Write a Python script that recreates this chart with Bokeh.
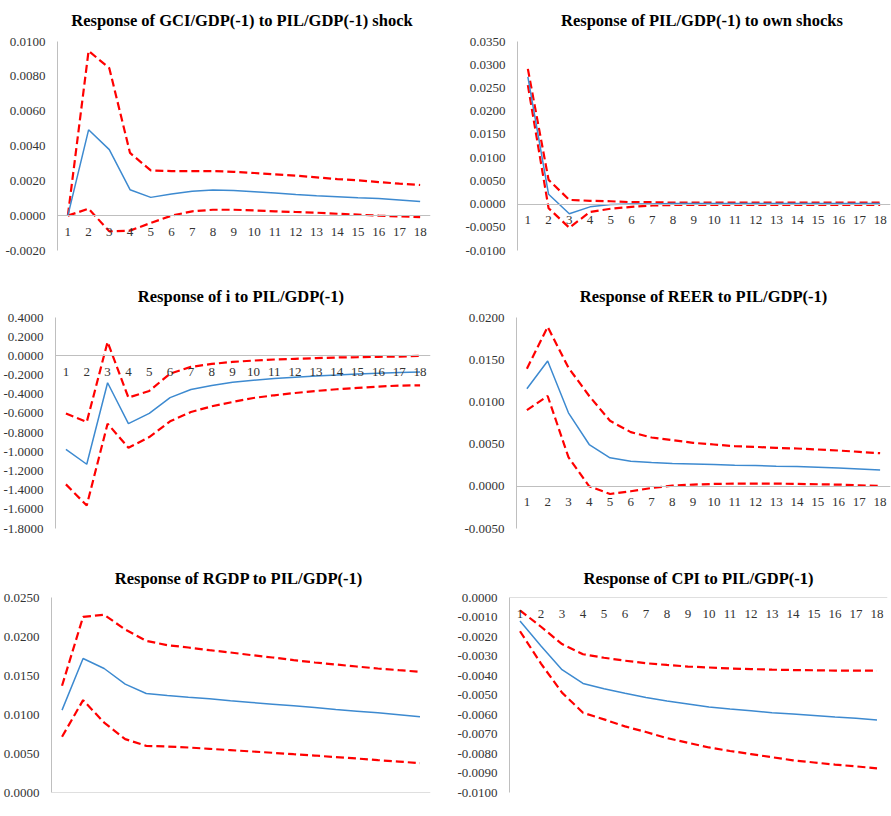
from bokeh.plotting import figure
from bokeh.layouts import column, row
from bokeh.models import FixedTicker, NumeralTickFormatter, Range1d
from bokeh.embed import file_html
from bokeh.resources import INLINE

periods = [1, 2, 3, 4, 5, 6, 7, 8, 9, 10, 11, 12, 13, 14, 15, 16, 17, 18]

# Panel 1: GCI/GDP(-1) to PIL/GDP(-1)
gci_mid = [0.0, 0.00493, 0.00379, 0.00149, 0.00105, 0.00124, 0.0014, 0.00147, 0.00145,
           0.00138, 0.0013, 0.00122, 0.00115, 0.00109, 0.00103, 0.00098, 0.0009, 0.00082]
gci_hi = [0.0, 0.00946, 0.00847, 0.0036, 0.0026, 0.00256, 0.00256, 0.00256, 0.00252,
          0.00245, 0.00237, 0.0023, 0.0022, 0.0021, 0.00203, 0.00193, 0.00184, 0.00176]
gci_lo = [0.0, 0.0004, -0.0009, -0.00086, -0.00042, 0.0, 0.00025, 0.00034, 0.00034,
          0.0003, 0.00025, 0.00021, 0.00017, 0.00011, 0.00006, 0.0, -0.00004, -0.00008]
gci_ticks = [-0.002, 0.0, 0.002, 0.004, 0.006, 0.008, 0.010]

# Panel 2: PIL/GDP(-1) own shocks
pil_mid = [0.0274, 0.0021, -0.0021, -0.0006, -0.0001, 0.0, 0.0, 0.0001, 0.0001,
           0.0001, 0.0001, 0.0001, 0.0001, 0.0001, 0.0001, 0.0001, 0.0001, 0.0001]
pil_hi = [0.0291, 0.0052, 0.0009, 0.0007, 0.0006, 0.0004, 0.0004, 0.0003, 0.0003,
          0.0003, 0.0003, 0.0003, 0.0003, 0.0003, 0.0003, 0.0003, 0.0003, 0.0003]
pil_lo = [0.0256, -0.0009, -0.0051, -0.0017, -0.001, -0.0006, -0.0003, -0.0002, -0.0002,
          -0.0002, -0.0002, -0.0002, -0.0002, -0.0002, -0.0002, -0.0002, -0.0002, -0.0002]
pil_ticks = [-0.010, -0.005, 0.0, 0.005, 0.010, 0.015, 0.020, 0.025, 0.030, 0.035]

# Panel 3: i to PIL/GDP(-1)
i_mid = [-0.975, -1.13, -0.28, -0.707, -0.60, -0.435, -0.35, -0.31, -0.275,
         -0.254, -0.237, -0.223, -0.209, -0.199, -0.188, -0.181, -0.174, -0.167]
i_hi = [-0.60, -0.69, 0.146, -0.435, -0.366, -0.185, -0.115, -0.084, -0.063,
        -0.049, -0.038, -0.031, -0.024, -0.017, -0.014, -0.010, -0.007, 0.0]
i_lo = [-1.34, -1.56, -0.707, -0.958, -0.847, -0.683, -0.585, -0.526, -0.481,
        -0.439, -0.411, -0.387, -0.366, -0.348, -0.334, -0.32, -0.31, -0.307]
i_ticks = [-1.8, -1.6, -1.4, -1.2, -1.0, -0.8, -0.6, -0.4, -0.2, 0.0, 0.2, 0.4]

# Panel 4: REER to PIL/GDP(-1)
reer_mid = [0.01156, 0.01485, 0.00871, 0.00495, 0.00337, 0.00297, 0.00281, 0.00269, 0.00265,
            0.00257, 0.0025, 0.00246, 0.00238, 0.00234, 0.00226, 0.00218, 0.00206, 0.00194]
reer_hi = [0.01394, 0.01889, 0.01406, 0.0107, 0.00776, 0.00642, 0.00578, 0.00547, 0.00515,
           0.00495, 0.00475, 0.00467, 0.00455, 0.00448, 0.00436, 0.00424, 0.00408, 0.00392]
reer_lo = [0.00903, 0.0107, 0.00345, 0.0, -0.00091, -0.00059, -0.0002, 0.00008, 0.0002,
           0.00028, 0.00032, 0.00032, 0.00032, 0.00028, 0.00024, 0.0002, 0.00012, 0.00004]
reer_ticks = [-0.005, 0.0, 0.005, 0.010, 0.015, 0.020]

# Panel 5: RGDP to PIL/GDP(-1)
rgdp_mid = [0.01056, 0.01718, 0.0159, 0.01389, 0.01269, 0.01244, 0.01222, 0.01201, 0.01175,
            0.01154, 0.01132, 0.01111, 0.0109, 0.01064, 0.01043, 0.01021, 0.00996, 0.0097]
rgdp_hi = [0.01368, 0.02252, 0.02278, 0.0209, 0.01944, 0.01889, 0.01859, 0.01825, 0.01795,
           0.01761, 0.01731, 0.01697, 0.01667, 0.01641, 0.01615, 0.0159, 0.01568, 0.01547]
rgdp_lo = [0.00714, 0.01184, 0.00897, 0.00684, 0.00598, 0.0059, 0.00577, 0.0056, 0.00543,
           0.00526, 0.00509, 0.00491, 0.00474, 0.00453, 0.00436, 0.00415, 0.00397, 0.00376]
rgdp_ticks = [0.0, 0.005, 0.010, 0.015, 0.020, 0.025]

# Panel 6: CPI to PIL/GDP(-1)
cpi_mid = [-0.00121, -0.00249, -0.0037, -0.00441, -0.00468, -0.00491, -0.00513, -0.00531, -0.00546,
           -0.00561, -0.00572, -0.00581, -0.00591, -0.00598, -0.00605, -0.00613, -0.00619, -0.00628]
cpi_hi = [-0.00066, -0.0015, -0.00239, -0.00291, -0.00309, -0.00324, -0.00337, -0.00346, -0.00354,
          -0.00359, -0.00364, -0.00367, -0.0037, -0.00372, -0.00373, -0.00375, -0.00375, -0.00375]
cpi_lo = [-0.00173, -0.00339, -0.00488, -0.00591, -0.00625, -0.00661, -0.0069, -0.00721, -0.00745,
          -0.00769, -0.00787, -0.00803, -0.00819, -0.00835, -0.00846, -0.00857, -0.00866, -0.00876]
cpi_ticks = [-0.010, -0.009, -0.008, -0.007, -0.006, -0.005, -0.004, -0.003, -0.002, -0.001, 0.0]

FONT = "'Liberation Serif', 'Times New Roman', serif"
BLUE = "#3d8ad0"
RED = "#ff0000"
AXIS = "#bfbfbf"
LABEL = "#333333"


def panel(title, mid, hi, lo, ticks, width, left, right, top, bottom, title_gap):
    p = figure(width=width, height=272, output_backend="svg", toolbar_location=None,
               x_range=Range1d(0.5, 18.5), y_range=Range1d(min(ticks), max(ticks)),
               min_border_left=left, min_border_right=right,
               min_border_top=top, min_border_bottom=bottom)
    p.outline_line_color = None
    p.grid.visible = False
    p.background_fill_color = "white"
    p.border_fill_color = "white"

    p.title.text = title
    p.title.text_font = FONT
    p.title.text_font_style = "bold"
    p.title.text_font_size = "16.5px"
    p.title.text_color = "#000000"
    p.title.align = "center"
    p.title.vertical_align = "top"
    p.title.text_line_height = 1.0
    p.title.standoff = title_gap

    p.line(periods, hi, line_color=RED, line_width=2.2, line_dash="8 4")
    p.line(periods, lo, line_color=RED, line_width=2.2, line_dash="8 4")
    p.line(periods, mid, line_color=BLUE, line_width=1.5)

    xa = p.xaxis[0]
    xa.ticker = FixedTicker(ticks=periods)
    xa.fixed_location = 0
    xa.axis_line_color = AXIS
    xa.axis_line_width = 1
    xa.major_tick_line_color = None
    xa.minor_tick_line_color = None
    xa.major_label_text_font = FONT
    xa.major_label_text_font_size = "13px"
    xa.major_label_text_color = LABEL
    xa.major_label_standoff = 6

    ya = p.yaxis[0]
    ya.ticker = FixedTicker(ticks=ticks)
    ya.formatter = NumeralTickFormatter(format="0.0000")
    ya.axis_line_color = AXIS
    ya.major_tick_line_color = None
    ya.minor_tick_line_color = None
    ya.major_label_text_font = FONT
    ya.major_label_text_font_size = "13px"
    ya.major_label_text_color = LABEL
    ya.major_label_standoff = 6
    return p


p1 = panel("Response of  GCI/GDP(-1) to PIL/GDP(-1) shock", gci_mid, gci_hi, gci_lo, gci_ticks,
           445, 57, 15, 40, 22, 20)
p2 = panel("Response of  PIL/GDP(-1) to own shocks", pil_mid, pil_hi, pil_lo, pil_ticks,
           446, 72, 1, 39, 22, 19)
p3 = panel("Response of  i to PIL/GDP(-1)", i_mid, i_hi, i_lo, i_ticks,
           445, 55, 15, 45, 16, 19)
p4 = panel("Response of REER to PIL/GDP(-1)", reer_mid, reer_hi, reer_lo, reer_ticks,
           446, 71, 1, 45, 16, 19)
p5 = panel("Response of  RGDP to PIL/GDP(-1)", rgdp_mid, rgdp_hi, rgdp_lo, rgdp_ticks,
           445, 50, 15, 53, 24, 16)
p6 = panel("Response of CPI to PIL/GDP(-1)", cpi_mid, cpi_hi, cpi_lo, cpi_ticks,
           446, 64, 4, 53, 7, 16)

layout = column(row(p1, p2), row(p3, p4), row(p5, p6))
open("out.html", "w").write(file_html(layout, INLINE))
